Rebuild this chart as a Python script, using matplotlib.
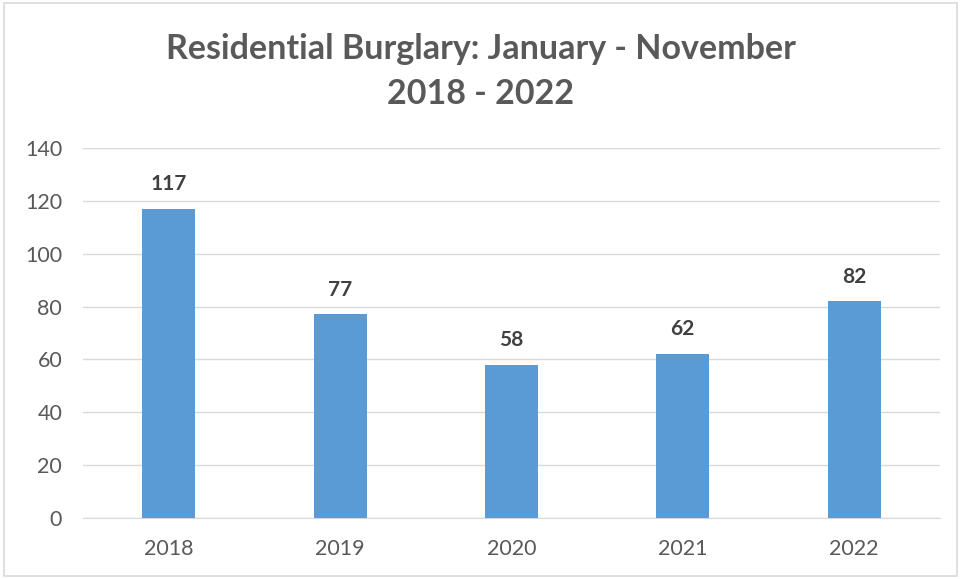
import matplotlib.pyplot as plt
from matplotlib.patches import Rectangle

years = ['2018', '2019', '2020', '2021', '2022']
burglaries = [117, 77, 58, 62, 82]
y_ticks = [0, 20, 40, 60, 80, 100, 120, 140]

plt.rcParams['font.family'] = ['Lato', 'DejaVu Sans']
text_color = '#595959'

fig = plt.figure(figsize=(9.61, 5.79), dpi=100)
ax = fig.add_axes([0.0864, 0.1054, 0.8916, 0.639])

x = range(len(years))
ax.bar(x, burglaries, width=0.31, color='#5B9BD5', zorder=3)

# value labels above bars
for i, v in enumerate(burglaries):
    ax.annotate(str(v), (i, v), xytext=(0, 13.5), textcoords='offset points',
                ha='center', va='baseline', fontsize=15, fontweight='bold',
                color='#404040')

ax.set_xlim(-0.5, len(years) - 0.5)
ax.set_ylim(0, 140)
ax.set_yticks(y_ticks)
ax.set_xticks(list(x))
ax.set_xticklabels(years)
ax.grid(axis='y', color='#D9D9D9', linewidth=1, zorder=0)
for s in ['top', 'right', 'left']:
    ax.spines[s].set_visible(False)
ax.spines['bottom'].set_color('#D9D9D9')
ax.tick_params(axis='both', length=0, labelsize=15.5, colors=text_color)
ax.tick_params(axis='x', pad=15)
ax.tick_params(axis='y', pad=15)

fig.text(0.5, 0.915, 'Residential Burglary: January - November', ha='center',
         va='center', fontsize=24.5, fontweight='bold', color=text_color)
fig.text(0.5, 0.837, '2018 - 2022', ha='center', va='center', fontsize=24.5,
         fontweight='bold', color=text_color)

fig.patches.append(Rectangle((0.004, 0.006), 0.992, 0.988, transform=fig.transFigure,
                             fill=False, edgecolor='#D9D9D9', linewidth=1.2))

fig.savefig('out.png', dpi=100)
